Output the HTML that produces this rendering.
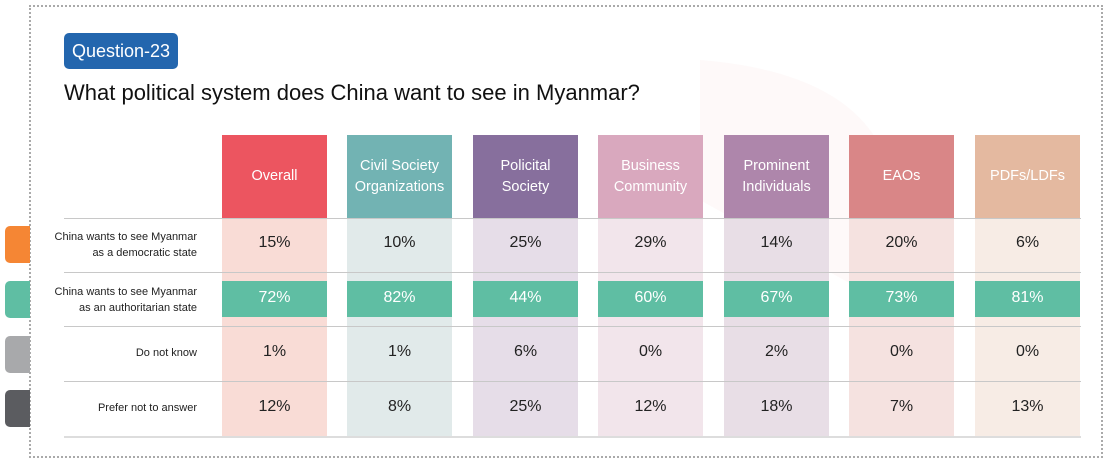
<!DOCTYPE html>
<html><head><meta charset="utf-8"><style>
*{margin:0;padding:0;box-sizing:border-box}
html,body{width:1110px;height:464px;overflow:hidden}
body{background:#fff;position:relative;font-family:"Liberation Sans",sans-serif;color:#222}
.abs{position:absolute}
svg{display:block}
.frame{left:29px;top:5px;width:1074px;height:453px;border:2px dotted #aaa}
.badge{left:64px;top:33px;width:114px;height:36px;background:#2366ae;border-radius:5px;color:#fff;font-size:18px;line-height:36px;text-align:center}
.title{left:64px;top:80px;font-size:22px;color:#111;white-space:nowrap}
.col{position:absolute;top:135px;width:105px;height:301px}
.hd{position:absolute;top:0;left:0;width:105px;height:83px;color:#fff;font-size:14.5px;display:flex;align-items:center;justify-content:center;text-align:center;line-height:21px}
.bd{position:absolute;top:83px;left:0;width:105px;height:218px}
.v{position:absolute;left:0;width:105px;text-align:center;font-size:16px;color:#222}
.teal{position:absolute;left:0;top:146px;width:105px;height:36px;background:#5fbea3}
.line{position:absolute;left:64px;width:1017px;height:1px;background:#c8c8c8}
.lab{position:absolute;right:913px;text-align:right;font-size:11px;line-height:16px;color:#222;white-space:nowrap}
.tab{position:absolute;left:5px;width:25px;height:37px;border-radius:5px 0 0 5px}
</style></head><body>
<svg class="abs" style="left:0;top:0" width="1110" height="440">
<path d="M700 60 Q950 80 880 300 L700 200 Z" fill="#fdf3f3" opacity="0.5"/>
</svg>
<div class="abs frame"></div>
<div class="abs badge">Question-23</div>
<div class="abs title">What political system does China want to see in Myanmar?</div>

<div class="tab" style="top:226px;background:#f58634"></div>
<div class="tab" style="top:281px;background:#5fbea3"></div>
<div class="tab" style="top:336px;background:#a8a9ab"></div>
<div class="tab" style="top:390px;background:#5b5c60"></div>

<div class="lab" style="top:229px">China wants to see Myanmar<br>as a democratic state</div>
<div class="lab" style="top:284px">China wants to see Myanmar<br>as an authoritarian state</div>
<div class="lab" style="top:345px">Do not know</div>
<div class="lab" style="top:400px">Prefer not to answer</div>

<div class="col" style="left:222px"><div class="hd" style="background:#ec5560">Overall</div><div class="bd" style="background:#f9dcd6"></div></div>
<div class="col" style="left:347px"><div class="hd" style="background:#72b3b3">Civil Society<br>Organizations</div><div class="bd" style="background:#e1eaea"></div></div>
<div class="col" style="left:473px"><div class="hd" style="background:#876f9d">Policital<br>Society</div><div class="bd" style="background:#e6dde8"></div></div>
<div class="col" style="left:598px"><div class="hd" style="background:#d9a8be">Business<br>Community</div><div class="bd" style="background:#f2e5eb"></div></div>
<div class="col" style="left:724px"><div class="hd" style="background:#ae86ab">Prominent<br>Individuals</div><div class="bd" style="background:#e8dee6"></div></div>
<div class="col" style="left:849px"><div class="hd" style="background:#d98687">EAOs</div><div class="bd" style="background:#f5e2e0"></div></div>
<div class="col" style="left:975px"><div class="hd" style="background:#e4b9a0">PDFs/LDFs</div><div class="bd" style="background:#f7ece5"></div></div>

<div class="line" style="top:218px"></div>
<div class="line" style="top:272px"></div>
<div class="line" style="top:326px"></div>
<div class="line" style="top:381px"></div>
<div class="line" style="top:436px;background:#ddd;height:2px"></div>

<div id="vals"></div>
<script>
var xs=[222,347,473,598,724,849,975];
var d=[["15%","10%","25%","29%","14%","20%","6%"],["72%","82%","44%","60%","67%","73%","81%"],["1%","1%","6%","0%","2%","0%","0%"],["12%","8%","25%","12%","18%","7%","13%"]];
var ys=[234,289,343,398];var h="";
for(var i=0;i<7;i++){h+='<div class="teal" style="position:absolute;left:'+xs[i]+'px;top:281px"></div>';}
for(var r=0;r<4;r++)for(var i=0;i<7;i++){h+='<div class="v" style="left:'+xs[i]+'px;top:'+ys[r]+'px;'+(r==1?'color:#fff':'')+'">'+d[r][i]+'</div>';}
document.getElementById('vals').innerHTML=h;
</script>
</body></html>
